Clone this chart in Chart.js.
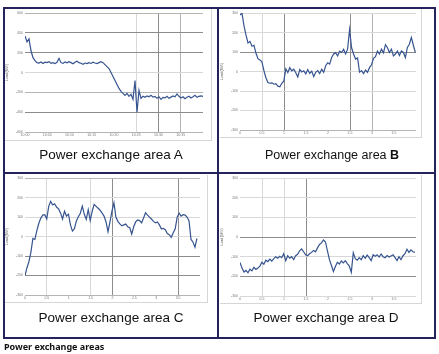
<!DOCTYPE html>
<html><head><meta charset="utf-8">
<script src="https://cdn.jsdelivr.net/npm/chart.js@4"></script>
<style>
html,body{margin:0;padding:0;background:#fff;width:439px;height:354px;overflow:hidden;position:relative;font-family:"Liberation Sans",Arial,sans-serif;}
.frame{position:absolute;left:3px;top:7px;width:433px;height:332px;border:2px solid #25235b;box-sizing:border-box;}
.vdiv{position:absolute;left:217px;top:7px;width:2px;height:332px;background:#25235b;}
.hdiv{position:absolute;left:3px;top:172px;width:433px;height:2px;background:#25235b;}
canvas{position:absolute;}
.cap{position:absolute;font-size:13.5px;color:#111;white-space:nowrap;transform:translate(-50%,-50%);}
.foot{position:absolute;left:4px;top:340px;font-family:"Noto Sans",sans-serif;font-weight:700;font-size:9px;color:#111;white-space:nowrap;}
.fl{position:absolute;background:#d6d6d6;}
</style></head>
<body>
<div class="fl" style="left:211px;top:9px;width:1px;height:132px"></div>
<div class="fl" style="left:5px;top:140px;width:207px;height:1px"></div>
<div class="fl" style="left:421px;top:9px;width:1px;height:129px"></div>
<div class="fl" style="left:220px;top:137px;width:202px;height:1px"></div>
<div class="fl" style="left:207px;top:175px;width:1px;height:128px"></div>
<div class="fl" style="left:5px;top:302px;width:203px;height:1px"></div>
<div class="fl" style="left:421px;top:175px;width:1px;height:129px"></div>
<div class="fl" style="left:220px;top:303px;width:202px;height:1px"></div>

<canvas id="cA" width="210" height="131" style="left:5px;top:9px;width:210px;height:131px"></canvas>
<canvas id="cB" width="210" height="129" style="left:220px;top:9px;width:210px;height:129px"></canvas>
<canvas id="cC" width="210" height="129" style="left:5px;top:174px;width:210px;height:129px"></canvas>
<canvas id="cD" width="210" height="130" style="left:220px;top:174px;width:210px;height:130px"></canvas>

<div class="frame"></div>
<div class="vdiv"></div>
<div class="hdiv"></div>

<div class="cap" style="left:111px;top:154px">Power exchange area A</div>
<div class="cap" style="left:332px;top:155px;font-size:12.5px">Power exchange area <b>B</b></div>
<div class="cap" style="left:111px;top:317px">Power exchange area C</div>
<div class="cap" style="left:326px;top:317px">Power exchange area D</div>
<div class="foot">Power exchange areas</div>

<script>
// ---- data ----
const yTitle = "Load (MW)";
const yLabelsA = ["-600","-400","-200","0","200","400","600"];
const yLabelsB = ["-300","-200","-100","0","100","200","300"];
const yLabelsC = ["-300","-200","-100","0","100","200","300"];
const yLabelsD = ["-300","-200","-100","0","100","200","300"];
const xLabelsA = ["10:00","10:05","10:10","10:15","10:20","10:25","10:30","10:35",""];
const xLabelsB = ["0","0.5","1","1.5","2","2.5","3","3.5",""];
const xLabelsC = ["0","0.5","1","1.5","2","2.5","3","3.5",""];
const xLabelsD = ["0","0.5","1","1.5","2","2.5","3","3.5",""];

const spanA = 8.0, spanB = 7.97, spanC = 7.86, spanD = 7.95;

const valuesA = [4.85,4.55,4.7,4.1,3.75,3.6,3.5,
 3.48,3.53,3.46,3.52,3.5,3.55,3.47,3.5,3.45,3.52,3.72,3.5,3.46,3.53,3.49,3.55,3.5,3.44,3.52,3.57,3.5,3.47,3.42,3.48,3.45,3.5,3.46,3.52,3.48,3.45,3.5,3.55,3.5,
 3.4,3.3,3.2,3.0,2.8,2.6,2.4,2.2,2.05,1.95,1.85,1.95,1.8,1.9,1.65,2.6,1.0,2.1,1.7,1.8,
 1.75,1.82,1.78,1.85,1.76,1.8,1.7,1.78,1.65,1.75,1.72,1.8,1.7,1.76,1.82,1.78,1.92,1.8,1.72,1.78,1.68,1.75,1.8,1.72,1.78,1.85,1.75,1.8,1.82,1.8];

const valuesB = [5.9,6.0,5.35,4.88,4.47,4.55,4.3,4.35,3.95,3.66,3.6,3.5,3.05,2.68,2.44,2.4,2.42,2.35,2.38,2.25,
 2.22,2.4,2.52,3.14,2.95,3.2,3.04,3.12,2.94,2.72,3.1,2.98,3.04,2.88,3.1,2.9,3.02,2.74,2.96,3.05,
 2.9,3.12,2.96,3.3,3.45,3.38,3.72,3.9,3.97,3.8,4.05,3.98,4.14,3.9,4.15,5.15,4.22,3.9,3.64,3.7,
 2.97,3.05,2.9,3.08,2.96,3.2,3.35,3.68,3.76,4.05,3.9,4.15,3.96,4.38,4.22,3.98,4.15,3.8,3.9,4.05,
 3.82,4.06,3.98,3.72,4.24,4.4,4.75,4.35,3.98];

const valuesC = [1.0,1.4,1.72,2.2,2.9,2.85,3.3,3.68,3.95,4.1,4.12,3.9,4.55,4.8,4.62,4.68,4.5,4.42,4.2,3.9,
 4.3,4.05,4.15,3.6,3.28,3.4,3.8,4.02,4.2,4.56,4.14,3.88,4.38,3.82,4.3,4.65,4.55,4.45,4.35,4.2,
 4.05,3.75,3.25,3.75,4.3,4.73,4.0,3.78,3.65,3.55,3.6,3.64,3.5,3.45,3.13,3.5,3.75,3.85,3.82,3.7,
 3.95,4.22,4.1,4.0,3.9,3.78,3.7,3.75,3.6,3.4,3.42,3.35,3.15,3.1,2.96,3.2,3.4,4.0,4.2,4.05,
 4.12,4.1,4.0,3.8,2.85,2.72,2.45,2.9];

const valuesD = [1.71,1.42,1.22,1.3,1.18,1.36,1.28,1.46,1.35,1.42,1.52,1.72,1.62,1.82,1.75,1.88,1.78,1.9,2.0,1.92,
 2.02,1.95,2.15,1.8,2.05,1.92,2.0,1.85,2.05,2.12,2.3,2.4,2.25,2.1,2.05,2.15,2.22,2.32,2.25,2.45,
 2.62,2.7,2.85,2.75,2.3,1.85,1.55,1.25,1.5,1.72,1.62,1.78,1.68,1.8,1.65,1.52,1.2,2.2,1.9,1.82,
 1.95,1.85,2.05,1.92,2.08,1.95,1.8,2.1,2.02,2.1,1.98,2.14,2.0,1.95,2.06,1.98,2.04,2.1,1.95,1.8,
 2.0,1.85,2.05,2.15,2.38,2.22,2.35,2.25,2.22];

// ---- styles ----
const DARK = "#8c8c8c", MID = "#b4b4b4", LIGHT = "#d8d8d8", NONE = "rgba(0,0,0,0)";
const LINE = "#36548f";

function makeChart(id, values, span, yLabels, xLabels, hGrid, vGrid, padRight) {
  const pts = values.map((v, i) => ({ x: i * span / (values.length - 1), y: v }));
  new Chart(document.getElementById(id), {
    type: "line",
    data: { datasets: [{ data: pts, borderColor: LINE, borderWidth: 1.2, pointRadius: 0, tension: 0, fill: false }] },
    options: {
      responsive: false, animation: false, parsing: true,
      layout: { padding: { left: 0, right: padRight, top: 3, bottom: 0 } },
      plugins: { legend: { display: false }, tooltip: { enabled: false } },
      scales: {
        x: {
          type: "linear", min: 0, max: 8,
          ticks: { stepSize: 1, autoSkip: false, maxRotation: 0, padding: 1, color: "#777",
                   font: { size: 3.5, family: "Liberation Sans" },
                   callback: (v) => xLabels[v] !== undefined ? xLabels[v] : "" },
          grid: { color: (c) => (c.tick && vGrid[c.tick.value]) || NONE, drawTicks: false, lineWidth: 1 },
          border: { display: false },
          afterFit: (s) => { s.height = 8; }
        },
        y: {
          min: 0, max: 6,
          ticks: { stepSize: 1, padding: 2, color: "#777", font: { size: 3.5, family: "Liberation Sans" },
                   callback: (v) => yLabels[v] !== undefined ? yLabels[v] : "" },
          grid: { color: (c) => (c.tick && hGrid[c.tick.value]) || NONE, drawTicks: false, lineWidth: 1 },
          border: { display: false },
          title: { display: true, text: yTitle, color: "#555", font: { size: 3.5, family: "Liberation Sans" }, padding: 0 },
          afterFit: (s) => { s.width = 20; }
        }
      }
    }
  });
}

makeChart("cA", valuesA, spanA, yLabelsA, xLabelsA,
  [MID, DARK, MID, LIGHT, DARK, DARK, MID],
  {5: LIGHT, 6: DARK, 7: MID}, 12);
makeChart("cB", valuesB, spanB, yLabelsB, xLabelsB,
  [MID, LIGHT, LIGHT, LIGHT, DARK, LIGHT, LIGHT],
  {1: LIGHT, 2: DARK, 5: DARK, 6: MID}, 14);
makeChart("cC", valuesC, spanC, yLabelsC, xLabelsC,
  [MID, DARK, DARK, LIGHT, LIGHT, LIGHT, MID],
  {1: LIGHT, 3: LIGHT, 4: DARK, 7: DARK}, 15);
makeChart("cD", valuesD, spanD, yLabelsD, xLabelsD,
  [LIGHT, DARK, LIGHT, DARK, LIGHT, LIGHT, LIGHT],
  {1: LIGHT, 2: LIGHT, 3: DARK}, 14);
</script>
</body></html>
